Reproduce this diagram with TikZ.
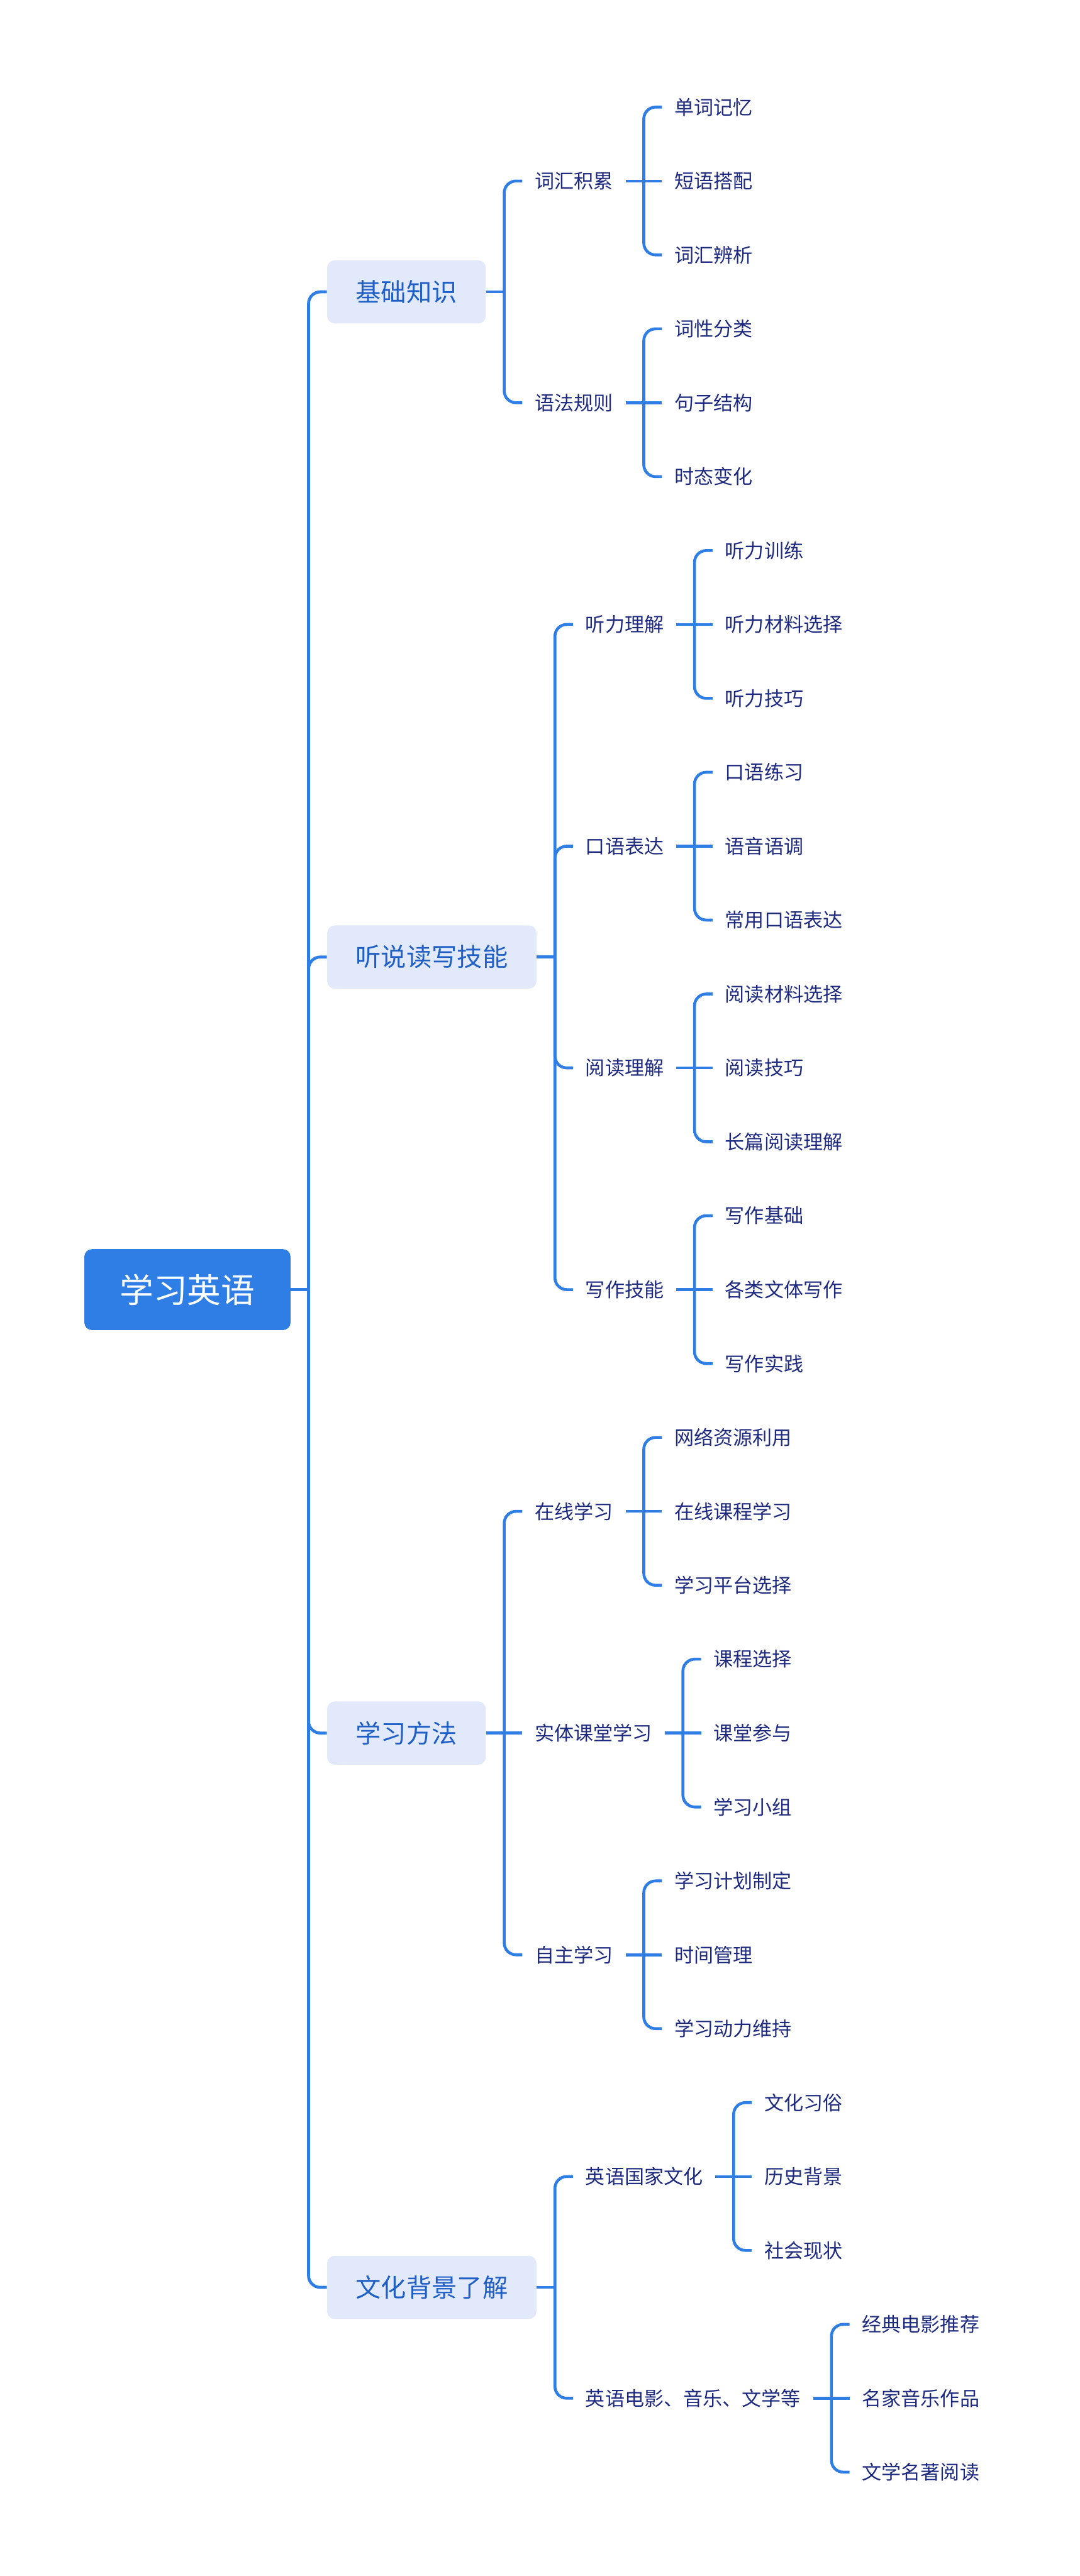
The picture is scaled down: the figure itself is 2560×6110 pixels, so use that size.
\documentclass[tikz,border=0pt]{standalone}
\usepackage{fontspec}
\setmainfont{Noto Sans CJK SC}
\usetikzlibrary{calc,positioning}
\definecolor{mapblue}{RGB}{47,126,230}
\definecolor{mappale}{RGB}{226,233,251}
\definecolor{maptopic}{RGB}{31,95,198}
\definecolor{mapnavy}{RGB}{30,42,128}
\tikzset{
  rootbox/.style={rectangle, rounded corners=1.8mm, fill=mapblue, text=white,
                  font=\fontsize{22.8}{26}\selectfont, minimum width=48.9mm, minimum height=19.2mm, inner sep=0pt},
  topic/.style={rectangle, rounded corners=1.8mm, fill=mappale, text=maptopic, anchor=west,
                font=\fontsize{17.1}{20}\selectfont, inner xsep=6.8mm, minimum height=15mm},
  leaf/.style={text=mapnavy, anchor=west, font=\fontsize{13.2}{16}\selectfont, inner xsep=2.9mm, inner ysep=1mm},
  link/.style={draw=mapblue, line width=1.95pt, rounded corners=2.8mm},
  trunk/.style={link, line width=2pt},
}

\begin{document}
\begin{tikzpicture}[x=0.1mm,y=-0.1mm]
  \useasboundingbox (0,0) rectangle (2560,6110);
  % leaf rows
  \foreach \k in {0,...,32} \coordinate (r\k) at (0,{254+175.3*\k});
  \coordinate (rjc) at ($(r1)!0.5!(r4)$);
  \coordinate (rts) at ($(r7)!0.5!(r16)$);
  \coordinate (rwh) at ($(r28)!0.5!(r31)$);

  % root and main topics
  \node[rootbox] (root) at (444.5,0 |- r16) {学习英语};
  \coordinate (rootb) at ($(root.east)+(42,0)$);
  \node[topic] (jc) at (775,0 |- rjc) {基础知识};
  \node[topic] (ts) at (775,0 |- rts) {听说读写技能};
  \node[topic] (ff) at (775,0 |- r22) {学习方法};
  \node[topic] (wh) at (775,0 |- rwh) {文化背景了解};
  \draw[trunk] (root.east) -- (rootb);
  \draw[trunk] (rootb) |- (jc.west);
  \draw[trunk] (rootb) |- (ts.west);
  \draw[trunk] (rootb) |- (ff.west);
  \draw[trunk] (rootb) |- (wh.west);

  % 基础知识
  \coordinate (jcb) at ($(jc.east)+(43,0)$);
  \coordinate (jcc) at ($(jcb)+(43,0)$);
  \node[leaf] (chjl) at (jcc |- r1) {词汇积累};
  \node[leaf] (yfgz) at (jcc |- r4) {语法规则};
  \draw[link] (jc.east) -- (jcb);
  \draw[link] (jcb) |- (chjl.west);
  \draw[link] (jcb) |- (yfgz.west);

  \coordinate (chjlb) at ($(chjl.east)+(43,0)$);
  \coordinate (chjlc) at ($(chjlb)+(43,0)$);
  \node[leaf] (dcjy) at (chjlc |- r0) {单词记忆};
  \node[leaf] (dydp) at (chjlc |- r1) {短语搭配};
  \node[leaf] (chbx) at (chjlc |- r2) {词汇辨析};
  \draw[link] (chjl.east) -- (dydp.west);
  \draw[link] (chjlb) |- (dcjy.west);
  \draw[link] (chjlb) |- (chbx.west);

  \coordinate (yfgzb) at ($(yfgz.east)+(43,0)$);
  \coordinate (yfgzc) at ($(yfgzb)+(43,0)$);
  \node[leaf] (cxfl) at (yfgzc |- r3) {词性分类};
  \node[leaf] (jzjg) at (yfgzc |- r4) {句子结构};
  \node[leaf] (stbh) at (yfgzc |- r5) {时态变化};
  \draw[link] (yfgz.east) -- (jzjg.west);
  \draw[link] (yfgzb) |- (cxfl.west);
  \draw[link] (yfgzb) |- (stbh.west);

  % 听说读写技能
  \coordinate (tsb) at ($(ts.east)+(43,0)$);
  \coordinate (tsc) at ($(tsb)+(43,0)$);
  \node[leaf] (tllj) at (tsc |- r7) {听力理解};
  \node[leaf] (kybd) at (tsc |- r10) {口语表达};
  \node[leaf] (ydlj) at (tsc |- r13) {阅读理解};
  \node[leaf] (xzjn) at (tsc |- r16) {写作技能};
  \draw[link] (ts.east) -- (tsb);
  \draw[link] (tsb) |- (tllj.west);
  \draw[link] (tsb) |- (kybd.west);
  \draw[link] (tsb) |- (ydlj.west);
  \draw[link] (tsb) |- (xzjn.west);

  \coordinate (tlljb) at ($(tllj.east)+(43,0)$);
  \coordinate (tlljc) at ($(tlljb)+(43,0)$);
  \node[leaf] (tlxl) at (tlljc |- r6) {听力训练};
  \node[leaf] (tlcl) at (tlljc |- r7) {听力材料选择};
  \node[leaf] (tljq) at (tlljc |- r8) {听力技巧};
  \draw[link] (tllj.east) -- (tlcl.west);
  \draw[link] (tlljb) |- (tlxl.west);
  \draw[link] (tlljb) |- (tljq.west);

  \coordinate (kybdb) at ($(kybd.east)+(43,0)$);
  \coordinate (kybdc) at ($(kybdb)+(43,0)$);
  \node[leaf] (kylx) at (kybdc |- r9) {口语练习};
  \node[leaf] (yyyd) at (kybdc |- r10) {语音语调};
  \node[leaf] (cykb) at (kybdc |- r11) {常用口语表达};
  \draw[link] (kybd.east) -- (yyyd.west);
  \draw[link] (kybdb) |- (kylx.west);
  \draw[link] (kybdb) |- (cykb.west);

  \coordinate (ydljb) at ($(ydlj.east)+(43,0)$);
  \coordinate (ydljc) at ($(ydljb)+(43,0)$);
  \node[leaf] (ydcl) at (ydljc |- r12) {阅读材料选择};
  \node[leaf] (ydjq) at (ydljc |- r13) {阅读技巧};
  \node[leaf] (cpyd) at (ydljc |- r14) {长篇阅读理解};
  \draw[link] (ydlj.east) -- (ydjq.west);
  \draw[link] (ydljb) |- (ydcl.west);
  \draw[link] (ydljb) |- (cpyd.west);

  \coordinate (xzjnb) at ($(xzjn.east)+(43,0)$);
  \coordinate (xzjnc) at ($(xzjnb)+(43,0)$);
  \node[leaf] (xzjc) at (xzjnc |- r15) {写作基础};
  \node[leaf] (glwt) at (xzjnc |- r16) {各类文体写作};
  \node[leaf] (xzsj) at (xzjnc |- r17) {写作实践};
  \draw[link] (xzjn.east) -- (glwt.west);
  \draw[link] (xzjnb) |- (xzjc.west);
  \draw[link] (xzjnb) |- (xzsj.west);

  % 学习方法
  \coordinate (ffb) at ($(ff.east)+(43,0)$);
  \coordinate (ffc) at ($(ffb)+(43,0)$);
  \node[leaf] (zxxx) at (ffc |- r19) {在线学习};
  \node[leaf] (stkt) at (ffc |- r22) {实体课堂学习};
  \node[leaf] (zzxx) at (ffc |- r25) {自主学习};
  \draw[link] (ff.east) -- (stkt.west);
  \draw[link] (ffb) |- (zxxx.west);
  \draw[link] (ffb) |- (zzxx.west);

  \coordinate (zxxxb) at ($(zxxx.east)+(43,0)$);
  \coordinate (zxxxc) at ($(zxxxb)+(43,0)$);
  \node[leaf] (wlzy) at (zxxxc |- r18) {网络资源利用};
  \node[leaf] (zxkc) at (zxxxc |- r19) {在线课程学习};
  \node[leaf] (xxpt) at (zxxxc |- r20) {学习平台选择};
  \draw[link] (zxxx.east) -- (zxkc.west);
  \draw[link] (zxxxb) |- (wlzy.west);
  \draw[link] (zxxxb) |- (xxpt.west);

  \coordinate (stktb) at ($(stkt.east)+(43,0)$);
  \coordinate (stktc) at ($(stktb)+(43,0)$);
  \node[leaf] (kcxz) at (stktc |- r21) {课程选择};
  \node[leaf] (ktcy) at (stktc |- r22) {课堂参与};
  \node[leaf] (xxxz) at (stktc |- r23) {学习小组};
  \draw[link] (stkt.east) -- (ktcy.west);
  \draw[link] (stktb) |- (kcxz.west);
  \draw[link] (stktb) |- (xxxz.west);

  \coordinate (zzxxb) at ($(zzxx.east)+(43,0)$);
  \coordinate (zzxxc) at ($(zzxxb)+(43,0)$);
  \node[leaf] (xxjh) at (zzxxc |- r24) {学习计划制定};
  \node[leaf] (sjgl) at (zzxxc |- r25) {时间管理};
  \node[leaf] (xxdl) at (zzxxc |- r26) {学习动力维持};
  \draw[link] (zzxx.east) -- (sjgl.west);
  \draw[link] (zzxxb) |- (xxjh.west);
  \draw[link] (zzxxb) |- (xxdl.west);

  % 文化背景了解
  \coordinate (whb) at ($(wh.east)+(43,0)$);
  \coordinate (whc) at ($(whb)+(43,0)$);
  \node[leaf] (gjwh) at (whc |- r28) {英语国家文化};
  \node[leaf] (dyyy) at (whc |- r31) {英语电影、音乐、文学等};
  \draw[link] (wh.east) -- (whb);
  \draw[link] (whb) |- (gjwh.west);
  \draw[link] (whb) |- (dyyy.west);

  \coordinate (gjwhb) at ($(gjwh.east)+(43,0)$);
  \coordinate (gjwhc) at ($(gjwhb)+(43,0)$);
  \node[leaf] (whxs) at (gjwhc |- r27) {文化习俗};
  \node[leaf] (lsbj) at (gjwhc |- r28) {历史背景};
  \node[leaf] (shxz) at (gjwhc |- r29) {社会现状};
  \draw[link] (gjwh.east) -- (lsbj.west);
  \draw[link] (gjwhb) |- (whxs.west);
  \draw[link] (gjwhb) |- (shxz.west);

  \coordinate (dyyyb) at ($(dyyy.east)+(43,0)$);
  \coordinate (dyyyc) at ($(dyyyb)+(43,0)$);
  \node[leaf] (jddy) at (dyyyc |- r30) {经典电影推荐};
  \node[leaf] (mjyy) at (dyyyc |- r31) {名家音乐作品};
  \node[leaf] (wxmz) at (dyyyc |- r32) {文学名著阅读};
  \draw[link] (dyyy.east) -- (mjyy.west);
  \draw[link] (dyyyb) |- (jddy.west);
  \draw[link] (dyyyb) |- (wxmz.west);
\end{tikzpicture}
\end{document}
